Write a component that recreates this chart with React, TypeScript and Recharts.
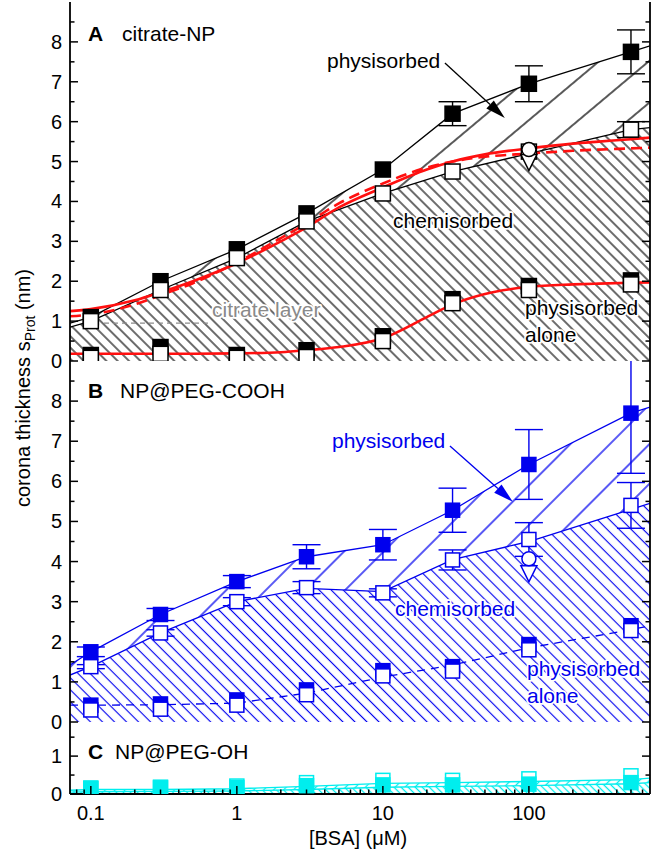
import React from "react";
import {
  Area,
  ComposedChart,
  ErrorBar,
  Line,
  ReferenceLine,
  Scatter,
  XAxis,
  YAxis,
} from "recharts";

const FONT = '"Liberation Sans", Arial, Helvetica, sans-serif';
const BLACK = "#000";
const RED = "#ff1010";
const BLUE = "#0000ee";
const CYAN = "#00eeee";
const GREY = "#8a8a8a";

// measured BSA concentrations (uM)
const CONC = [0.1, 0.3, 1, 3, 10, 30, 100, 500];
// guide lines run from plot edge to plot edge
const EDGE_X = [0.072, 0.1, 0.3, 1, 3, 10, 30, 100, 500, 675];
// x grid of the smooth fits in panel A
const FIT_X = [0.072, 0.1, 0.2, 0.3, 0.5, 1, 2, 3, 5, 10, 20, 30, 50, 100, 200, 300, 500, 675];
// the extra circle / triangle markers sit at 100 uM
const MARK_X = [100];

// ---- panel A: citrate-NP
const A_TOTAL = [1.1, 2.0, 2.8, 3.7, 4.8, 6.2, 6.95, 7.75];
const A_TOTAL_ERR = [0, 0, 0, 0, 0, 0.3, 0.45, 0.55];
const A_CHEM = [1.0, 1.78, 2.58, 3.5, 4.2, 4.75, 5.25, 5.8];
const A_CHEM_ERR = [0, 0, 0, 0, 0, 0, 0, 0.2];
const A_PHYS = [0.15, 0.35, 0.15, 0.27, 0.62, 1.55, 1.88, 2.02];
const A_PHYS_OPEN = [0.08, 0.18, 0.08, 0.1, 0.5, 1.45, 1.78, 1.92];
const A_TOP_LINE = [0.95, 1.1, 2.0, 2.8, 3.7, 4.8, 6.2, 6.95, 7.75, 7.9];
const A_CHEM_LINE = [0.85, 1.0, 1.78, 2.58, 3.5, 4.2, 4.75, 5.2, 5.8, 5.85];
const A_FIT = [1.25, 1.3, 1.52, 1.72, 2.0, 2.45, 3.0, 3.35, 3.85, 4.35, 4.8, 5.0, 5.18, 5.33, 5.45, 5.5, 5.56, 5.6];
const A_FIT_DASH = [1.12, 1.17, 1.42, 1.65, 1.95, 2.47, 3.08, 3.45, 3.95, 4.45, 4.85, 5.0, 5.12, 5.2, 5.27, 5.3, 5.33, 5.35];
const A_FIT_PHYS = [0.18, 0.18, 0.18, 0.18, 0.18, 0.19, 0.22, 0.27, 0.35, 0.57, 1.1, 1.42, 1.68, 1.86, 1.92, 1.94, 1.96, 1.97];
const A_CIRCLE = [5.3];
const A_TRI = [5.0];

// ---- panel B: NP@PEG-COOH
const B_TOTAL = [1.75, 2.68, 3.5, 4.12, 4.42, 5.28, 6.42, 7.7];
const B_TOTAL_ERR = [0.12, 0.15, 0.15, 0.3, 0.38, 0.55, 0.87, 1.5];
const B_CHEM = [1.38, 2.22, 3.0, 3.35, 3.22, 4.04, 4.55, 5.4];
const B_CHEM_ERR = [0.05, 0.08, 0.1, 0.15, 0.1, 0.25, 0.42, 0.57];
const B_PHYS = [0.42, 0.45, 0.55, 0.8, 1.28, 1.38, 1.93, 2.4];
const B_PHYS_OPEN = [0.3, 0.32, 0.42, 0.68, 1.15, 1.27, 1.8, 2.28];
const B_TOP_LINE = [1.42, 1.75, 2.68, 3.5, 4.12, 4.42, 5.28, 6.42, 7.7, 7.85];
const B_CHEM_LINE = [1.17, 1.38, 2.22, 3.0, 3.33, 3.25, 4.05, 4.5, 5.3, 5.45];
const B_PHYS_LINE = [0.42, 0.42, 0.43, 0.47, 0.72, 1.12, 1.42, 1.85, 2.3, 2.4];
const B_CIRCLE = [4.07];
const B_TRI = [3.72];

// ---- panel C: NP@PEG-OH
const C_TOTAL = [0.14, 0.16, 0.17, 0.22, 0.24, 0.24, 0.26, 0.3];
const C_CHEM = [0.16, 0.18, 0.21, 0.3, 0.36, 0.36, 0.4, 0.48];
const C_TOP_LINE = [0.1, 0.12, 0.12, 0.14, 0.2, 0.28, 0.3, 0.33, 0.38, 0.42];
const C_CHEM_LINE = [0.05, 0.06, 0.07, 0.08, 0.12, 0.18, 0.2, 0.22, 0.27, 0.3];

// axes
const X_DOMAIN = [0.072, 675];
const X_TICKS = [
  0.08, 0.09, 0.1, 0.2, 0.3, 0.4, 0.5, 0.6, 0.7, 0.8, 0.9, 1, 2, 3, 4, 5, 6, 7, 8, 9,
  10, 20, 30, 40, 50, 60, 70, 80, 90, 100, 200, 300, 400, 500, 600,
];
const X_MAJOR = [0.1, 1, 10, 100];
const Y_TICKS = [0, 0.5, 1, 1.5, 2, 2.5, 3, 3.5, 4, 4.5, 5, 5.5, 6, 6.5, 7, 7.5, 8, 8.5];
const Y_TICKS_C = [0, 0.5, 1, 1.5];

const pts = (xs: number[], ys: number[], errs?: number[]) =>
  xs.map((x, i) => ({ x, y: ys[i], err: errs ? errs[i] : 0 }));

const guideRows = (top: number[], chem: number[], extra?: number[]) =>
  EDGE_X.map((x, i) => ({
    x,
    top: top[i],
    chem: chem[i],
    band: [chem[i], top[i]],
    extra: extra ? extra[i] : null,
  }));

const fitRows = FIT_X.map((x, i) => ({
  x,
  fit: A_FIT[i],
  dash: A_FIT_DASH[i],
  phys: A_FIT_PHYS[i],
}));

const square = (size: number, color: string, filled: boolean) => (p: any) => (
  <rect
    x={p.cx - size / 2}
    y={p.cy - size / 2}
    width={size}
    height={size}
    fill={filled ? color : "#fff"}
    stroke={color}
    strokeWidth={1.5}
  />
);

const circle = (color: string) => (p: any) => (
  <circle cx={p.cx} cy={p.cy} r={7} fill="#fff" stroke={color} strokeWidth={1.5} />
);

const triangle = (color: string) => (p: any) => (
  <polygon
    points={`${p.cx - 8},${p.cy - 7} ${p.cx + 8},${p.cy - 7} ${p.cx},${p.cy + 9}`}
    fill="#fff"
    stroke={color}
    strokeWidth={1.5}
  />
);

const arrow = (color: string) => (p: any) => {
  const { x1, y1, x2, y2 } = p;
  if (x1 == null || x2 == null) return null;
  const a = Math.atan2(y2 - y1, x2 - x1);
  const L = 20;
  const W = 5.5;
  const bx = x2 - L * Math.cos(a);
  const by = y2 - L * Math.sin(a);
  const nx = -Math.sin(a) * W;
  const ny = Math.cos(a) * W;
  return (
    <g>
      <line x1={x1} y1={y1} x2={bx} y2={by} stroke={color} strokeWidth={1.3} />
      <polygon points={`${x2},${y2} ${bx + nx},${by + ny} ${bx - nx},${by - ny}`} fill={color} />
    </g>
  );
};

function xTick(side: "top" | "bottom", labels: boolean) {
  return (p: any) => {
    const v = p.payload.value;
    const major = X_MAJOR.includes(v);
    const len = major ? 8 : 4.5;
    const d = side === "bottom" ? -1 : 1;
    return (
      <g>
        <line x1={p.x} x2={p.x} y1={p.y} y2={p.y + d * len} stroke={BLACK} strokeWidth={1.5} />
        {labels && major ? (
          <text x={p.x} y={p.y + 26} textAnchor="middle" fontSize={20} fontFamily={FONT} fill={BLACK}>
            {String(v)}
          </text>
        ) : null}
      </g>
    );
  };
}

function yTick(side: "left" | "right") {
  return (p: any) => {
    const v = p.payload.value;
    const major = Number.isInteger(v);
    const len = major ? 8 : 4.5;
    const d = side === "left" ? 1 : -1;
    return (
      <g>
        <line x1={p.x} x2={p.x + d * len} y1={p.y} y2={p.y} stroke={BLACK} strokeWidth={1.5} />
        {side === "left" && major ? (
          <text x={p.x - 8} y={p.y + 7} textAnchor="end" fontSize={20} fontFamily={FONT} fill={BLACK}>
            {String(v)}
          </text>
        ) : null}
      </g>
    );
  };
}

const AXIS_LINE = { stroke: BLACK, strokeWidth: 1.8 };

function frame(yMax: number, yTicks: number[], xLabels: boolean, xHeight: number) {
  const common = {
    type: "number" as const,
    scale: "log" as const,
    domain: X_DOMAIN,
    allowDataOverflow: true,
    ticks: X_TICKS,
    interval: 0 as const,
    tickSize: 0,
    tickMargin: 0,
    tickLine: false,
    axisLine: AXIS_LINE,
  };
  const yCommon = {
    type: "number" as const,
    domain: [0, yMax],
    allowDataOverflow: true,
    ticks: yTicks,
    interval: 0 as const,
    tickSize: 0,
    tickMargin: 0,
    tickLine: false,
    axisLine: AXIS_LINE,
  };
  return [
    <XAxis key="xb" dataKey="x" height={xHeight} tick={xTick("bottom", xLabels)} {...common} />,
    <XAxis key="xt" xAxisId="top" orientation="top" height={0} tick={xTick("top", false)} {...common} />,
    <YAxis key="yl" width={70} tick={yTick("left")} {...yCommon} />,
    <YAxis key="yr" yAxisId="right" orientation="right" width={5} tick={yTick("right")} {...yCommon} />,
  ];
}

function hatch(id: string, color: string, gap: number, angle: number, w = 1.15) {
  return (
    <pattern
      id={id}
      patternUnits="userSpaceOnUse"
      width={gap}
      height={20}
      patternTransform={`rotate(${angle})`}
    >
      <line x1={gap / 2} y1={-2} x2={gap / 2} y2={22} stroke={color} strokeWidth={w} />
    </pattern>
  );
}

const rowsA = guideRows(A_TOP_LINE, A_CHEM_LINE);
const rowsB = guideRows(B_TOP_LINE, B_CHEM_LINE, B_PHYS_LINE);
const rowsC = guideRows(C_TOP_LINE, C_CHEM_LINE);

// each of panels A and B keeps 12px below its plot so that its "0" label is not cut
const SPILL = 12;

function PanelA() {
  return (
    <ComposedChart width={655} height={361 + SPILL} data={rowsA} margin={{ top: 2, right: 0, bottom: SPILL, left: 0 }}>
      <defs>
        {hatch("hatchA", BLACK, 8, -45)}
        {hatch("sparseA", BLACK, 32, 50, 1.3)}
      </defs>
      {frame(9, Y_TICKS, false, 0)}
      <Area dataKey="chem" type="linear" fill="url(#hatchA)" fillOpacity={1} stroke="none" isAnimationActive={false} />
      <Area dataKey="band" type="linear" fill="url(#sparseA)" fillOpacity={1} stroke="none" isAnimationActive={false} />
      <Line dataKey="top" type="linear" stroke={BLACK} strokeWidth={1.3} dot={false} isAnimationActive={false} />
      <Line dataKey="chem" type="linear" stroke={BLACK} strokeWidth={1.3} dot={false} isAnimationActive={false} />
      <ReferenceLine
        segment={[{ x: 0.123, y: 0.95 }, { x: 0.66, y: 0.95 }]}
        stroke={GREY}
        strokeWidth={1.2}
        strokeDasharray="5 4"
      />
      <Scatter data={pts(CONC, A_TOTAL, A_TOTAL_ERR)} dataKey="y" shape={square(15, BLACK, true)} isAnimationActive={false}>
        <ErrorBar dataKey="err" direction="y" width={14} stroke={BLACK} strokeWidth={1.4} />
      </Scatter>
      <Scatter data={pts(CONC, A_CHEM, A_CHEM_ERR)} dataKey="y" shape={square(15, BLACK, false)} isAnimationActive={false}>
        <ErrorBar dataKey="err" direction="y" width={14} stroke={BLACK} strokeWidth={1.4} />
      </Scatter>
      <Scatter data={pts(CONC, A_PHYS)} dataKey="y" shape={square(15, BLACK, true)} isAnimationActive={false} />
      <Scatter data={pts(CONC, A_PHYS_OPEN)} dataKey="y" shape={square(15, BLACK, false)} isAnimationActive={false} />
      <Scatter data={pts(MARK_X, A_TRI)} dataKey="y" shape={triangle(BLACK)} isAnimationActive={false} />
      <Scatter data={pts(MARK_X, A_CIRCLE)} dataKey="y" shape={circle(BLACK)} isAnimationActive={false} />
      <Line data={fitRows} dataKey="dash" type="monotone" stroke={RED} strokeWidth={2.6} strokeDasharray="11 6" dot={false} isAnimationActive={false} />
      <Line data={fitRows} dataKey="fit" type="monotone" stroke={RED} strokeWidth={2.6} dot={false} isAnimationActive={false} />
      <Line data={fitRows} dataKey="phys" type="monotone" stroke={RED} strokeWidth={2.6} dot={false} isAnimationActive={false} />
      <ReferenceLine segment={[{ x: 26.6, y: 7.47 }, { x: 68.4, y: 6.09 }]} stroke={BLACK} shape={arrow(BLACK)} />
    </ComposedChart>
  );
}

function PanelB() {
  return (
    <ComposedChart width={655} height={361 + SPILL} data={rowsB} margin={{ top: 0, right: 0, bottom: SPILL, left: 0 }}>
      <defs>
        {hatch("hatchB", BLUE, 8.5, -45)}
        {hatch("sparseB", BLUE, 28, 45, 1.3)}
      </defs>
      {frame(9, Y_TICKS, false, 0)}
      <Area dataKey="chem" type="linear" fill="url(#hatchB)" fillOpacity={1} stroke="none" isAnimationActive={false} />
      <Area dataKey="band" type="linear" fill="url(#sparseB)" fillOpacity={1} stroke="none" isAnimationActive={false} />
      <Line dataKey="top" type="linear" stroke={BLUE} strokeWidth={1.3} dot={false} isAnimationActive={false} />
      <Line dataKey="chem" type="linear" stroke={BLUE} strokeWidth={1.3} dot={false} isAnimationActive={false} />
      <Line dataKey="extra" type="linear" stroke={BLUE} strokeWidth={1.3} strokeDasharray="8 6" dot={false} isAnimationActive={false} />
      <Scatter data={pts(CONC, B_TOTAL, B_TOTAL_ERR)} dataKey="y" shape={square(14, BLUE, true)} isAnimationActive={false}>
        <ErrorBar dataKey="err" direction="y" width={14} stroke={BLUE} strokeWidth={1.4} />
      </Scatter>
      <Scatter data={pts(CONC, B_CHEM, B_CHEM_ERR)} dataKey="y" shape={square(14, BLUE, false)} isAnimationActive={false}>
        <ErrorBar dataKey="err" direction="y" width={14} stroke={BLUE} strokeWidth={1.4} />
      </Scatter>
      <Scatter data={pts(CONC, B_PHYS)} dataKey="y" shape={square(14, BLUE, true)} isAnimationActive={false} />
      <Scatter data={pts(CONC, B_PHYS_OPEN)} dataKey="y" shape={square(14, BLUE, false)} isAnimationActive={false} />
      <Scatter data={pts(MARK_X, B_TRI)} dataKey="y" shape={triangle(BLUE)} isAnimationActive={false} />
      <Scatter data={pts(MARK_X, B_CIRCLE)} dataKey="y" shape={circle(BLUE)} isAnimationActive={false} />
      <ReferenceLine segment={[{ x: 28.8, y: 6.88 }, { x: 77.6, y: 5.49 }]} stroke={BLUE} shape={arrow(BLUE)} />
    </ComposedChart>
  );
}

function PanelC() {
  return (
    <ComposedChart width={655} height={130} data={rowsC} margin={{ top: 0, right: 0, bottom: 0, left: 0 }}>
      <defs>
        {hatch("hatchC", CYAN, 5, -45, 1.3)}
        {hatch("sparseC", CYAN, 7, 45, 1.3)}
      </defs>
      {frame(1.9, Y_TICKS_C, true, 58)}
      <Area dataKey="chem" type="linear" fill="url(#hatchC)" fillOpacity={1} stroke="none" isAnimationActive={false} />
      <Area dataKey="band" type="linear" fill="url(#sparseC)" fillOpacity={1} stroke="none" isAnimationActive={false} />
      <Line dataKey="top" type="linear" stroke={CYAN} strokeWidth={1.4} dot={false} isAnimationActive={false} />
      <Line dataKey="chem" type="linear" stroke={CYAN} strokeWidth={1.4} dot={false} isAnimationActive={false} />
      <Scatter data={pts(CONC, C_CHEM)} dataKey="y" shape={square(14, CYAN, false)} isAnimationActive={false} />
      <Scatter data={pts(CONC, C_TOTAL)} dataKey="y" shape={square(14, CYAN, true)} isAnimationActive={false} />
    </ComposedChart>
  );
}

// white halo so that labels stay readable on top of the hatching
const HALO = { stroke: "#fff", strokeWidth: 3.5, paintOrder: "stroke" as const, strokeLinejoin: "round" as const };

function Overlay() {
  const t = { fontFamily: FONT, fontSize: 21 };
  return (
    <svg
      width={655}
      height={852}
      style={{ position: "absolute", left: 0, top: 0, pointerEvents: "none" }}
    >
      <g {...t} fill={BLACK}>
        <text x={88} y={41} fontWeight="bold">A</text>
        <text x={122} y={41}>citrate-NP</text>
        <text x={327} y={68} {...HALO}>physisorbed</text>
        <text x={393} y={228} {...HALO}>chemisorbed</text>
        <text x={525} y={315} {...HALO}>physisorbed</text>
        <text x={525} y={342} {...HALO}>alone</text>
        <text x={88} y={398} fontWeight="bold">B</text>
        <text x={120} y={398}>NP@PEG-COOH</text>
        <text x={88} y={759} fontWeight="bold">C</text>
        <text x={115} y={759}>NP@PEG-OH</text>
      </g>
      <text x={212} y={317} {...t} {...HALO} fill={GREY}>citrate layer</text>
      <g {...t} fill={BLUE}>
        <text x={332} y={448} {...HALO}>physisorbed</text>
        <text x={395} y={616} {...HALO}>chemisorbed</text>
        <text x={527} y={676} {...HALO}>physisorbed</text>
        <text x={527} y={703} {...HALO}>alone</text>
      </g>
      <text
        transform="translate(30,388) rotate(-90)"
        textAnchor="middle"
        fontFamily={FONT}
        fontSize={20}
        fill={BLACK}
      >
        corona thickness s
        <tspan fontSize={14} dy={5}>Prot</tspan>
        <tspan dy={-5}> (nm)</tspan>
      </text>
      <text x={358} y={845} textAnchor="middle" fontFamily={FONT} fontSize={20} fill={BLACK}>
        [BSA] (μM)
      </text>
    </svg>
  );
}

const place = (top: number): React.CSSProperties => ({ position: "absolute", left: 0, top });

export default function App() {
  return (
    <div style={{ position: "absolute", left: 0, top: 0, width: 655, height: 852, background: "#fff" }}>
      <div style={place(0)}>
        <PanelA />
      </div>
      <div style={place(361)}>
        <PanelB />
      </div>
      <div style={place(722)}>
        <PanelC />
      </div>
      <Overlay />
    </div>
  );
}
